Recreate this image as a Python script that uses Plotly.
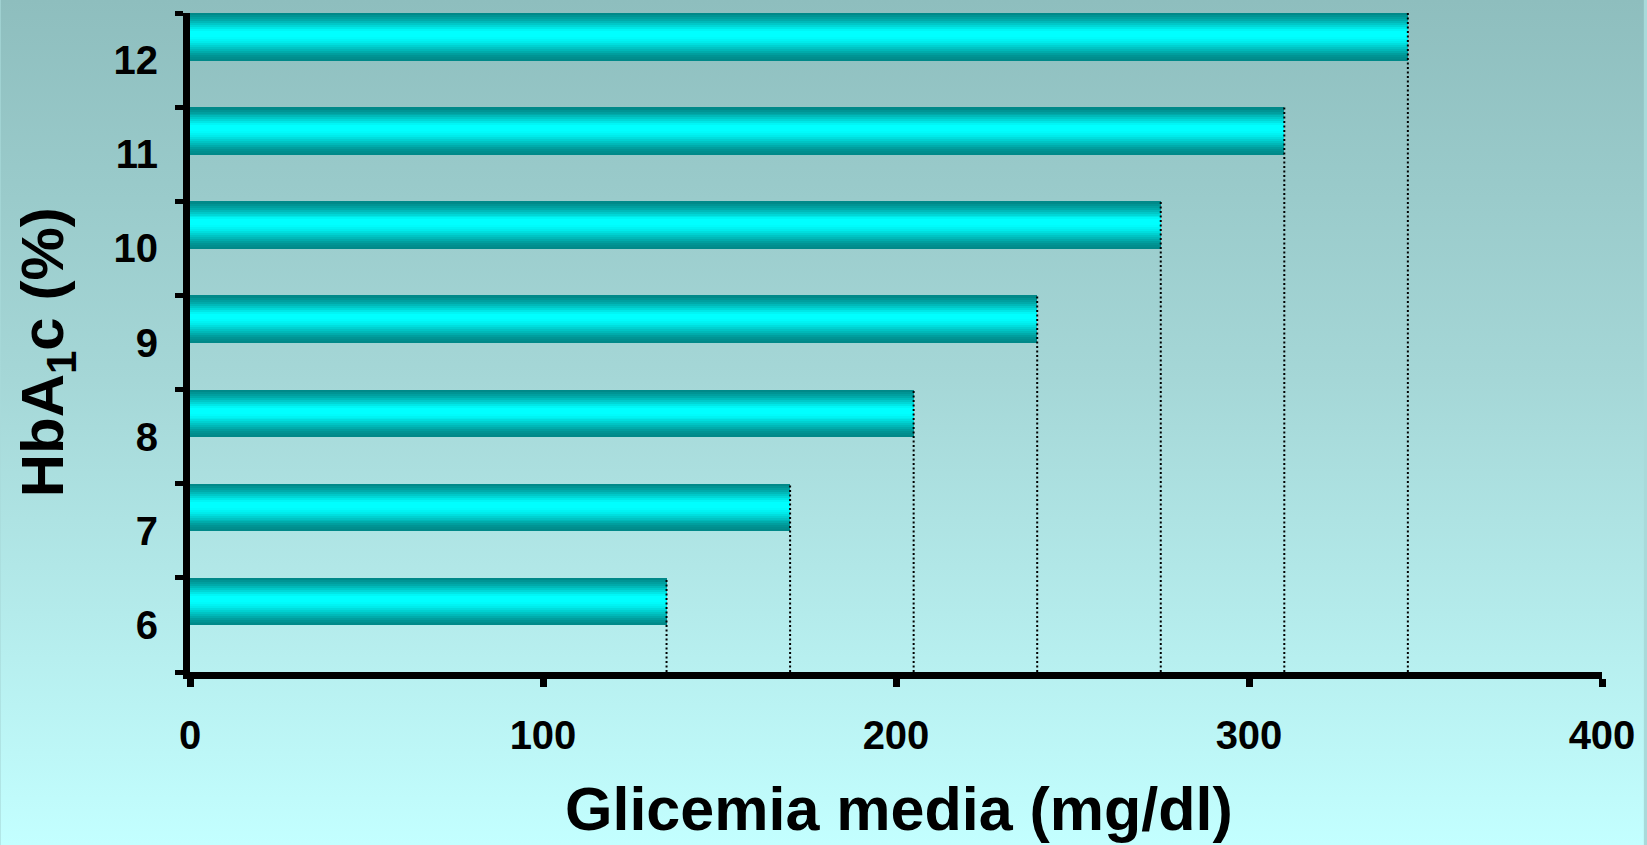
import base64
import plotly.graph_objects as go

# HbA1c (%) categories and the corresponding mean glycaemia (mg/dl)
hba1c = ["6", "7", "8", "9", "10", "11", "12"]
glicemia = [135, 170, 205, 240, 275, 310, 345]
x_ticks = [0, 100, 200, 300, 400]

W, H = 1647, 845
M_L, M_R, M_T, M_B = 190, 42, 13, 173
PLOT_W = W - M_L - M_R
PLOT_H = H - M_T - M_B

FONT = "Liberation Sans, Arial, sans-serif"

# Cylinder-like shading across each bar (bottom -> top)
shade_stops = [
    (0.00, (0, 134, 134)),
    (0.12, (0, 150, 150)),
    (0.40, (0, 236, 236)),
    (0.50, (0, 255, 255)),
    (0.62, (0, 255, 255)),
    (0.86, (0, 168, 168)),
    (1.00, (0, 132, 132)),
]


def shade(t):
    for (t0, c0), (t1, c1) in zip(shade_stops[:-1], shade_stops[1:]):
        if t <= t1:
            f = (t - t0) / (t1 - t0) if t1 > t0 else 0
            return "rgb(%d,%d,%d)" % tuple(round(a + (b - a) * f) for a, b in zip(c0, c1))
    return "rgb(%d,%d,%d)" % shade_stops[-1][1]


BAR_W = 0.5
N_STRIPS = 24
strip = BAR_W / N_STRIPS

fig = go.Figure()
for k in range(N_STRIPS):
    fig.add_trace(go.Bar(
        y=hba1c,
        x=glicemia,
        orientation="h",
        width=strip,
        offset=k * strip,
        marker=dict(color=shade((k + 0.5) / N_STRIPS), line=dict(width=0)),
        showlegend=False,
        hoverinfo="x+y" if k == N_STRIPS // 2 else "skip",
    ))

# Dotted drop lines from the top of each bar down to the value axis
shapes = []
for i, v in enumerate(glicemia):
    shapes.append(dict(
        type="line", xref="x", yref="y",
        x0=v, x1=v, y0=-0.5, y1=i + 0.5,
        line=dict(color="black", width=2, dash="2px,2.5px"),
        layer="above",
    ))

# Soft vertical background gradient
svg = (
    f'<svg xmlns="http://www.w3.org/2000/svg" width="{W}" height="{H}" '
    f'viewBox="0 0 {W} {H}" preserveAspectRatio="none">'
    '<defs><linearGradient id="g" x1="0" y1="0" x2="0" y2="1">'
    '<stop offset="0" stop-color="#8ebebe"/>'
    '<stop offset="0.45" stop-color="#a5d7d7"/>'
    '<stop offset="1" stop-color="#c3ffff"/>'
    '</linearGradient></defs>'
    f'<rect width="{W}" height="{H}" fill="url(#g)"/></svg>'
)
bg_src = "data:image/svg+xml;base64," + base64.b64encode(svg.encode()).decode()

fig.update_layout(
    width=W, height=H,
    margin=dict(l=M_L, r=M_R, t=M_T, b=M_B, pad=0),
    paper_bgcolor="#a8dada",
    plot_bgcolor="rgba(0,0,0,0)",
    barmode="overlay",
    bargap=0,
    showlegend=False,
    shapes=shapes,
    images=[dict(
        source=bg_src, xref="paper", yref="paper",
        x=-M_L / PLOT_W, y=1 + M_T / PLOT_H,
        sizex=W / PLOT_W, sizey=H / PLOT_H,
        xanchor="left", yanchor="top",
        sizing="stretch", layer="below",
    )],
    xaxis=dict(
        range=[0, 400],
        tickvals=x_ticks,
        ticktext=[str(t) for t in x_ticks],
        showgrid=False, zeroline=False,
        showline=True, linewidth=7, linecolor="black",
        ticks="outside", ticklen=8, tickwidth=7, tickcolor="black",
        ticklabelstandoff=14,
        tickfont=dict(family=FONT, size=40, color="black", weight="bold"),
        fixedrange=True,
    ),
    yaxis=dict(
        type="category",
        categoryorder="array", categoryarray=hba1c,
        range=[-0.5, 6.5],
        tickson="boundaries",
        showgrid=False, zeroline=False,
        showline=True, linewidth=7, linecolor="black",
        ticks="outside", ticklen=8, tickwidth=5, tickcolor="black",
        ticklabelstandoff=17,
        tickfont=dict(family=FONT, size=40, color="black", weight="bold"),
        fixedrange=True,
    ),
    annotations=[
        dict(
            text="Glicemia media (mg/dl)",
            xref="paper", yref="paper",
            x=(901 - M_L) / PLOT_W, y=-(809 - (H - M_B)) / PLOT_H,
            xanchor="center", yanchor="middle", showarrow=False,
            font=dict(family=FONT, size=61, color="black", weight="bold"),
        ),
        dict(
            text="HbA<sub>1</sub>c (%)",
            xref="paper", yref="paper",
            x=(47 - M_L) / PLOT_W, y=1 - (352 - M_T) / PLOT_H,
            xanchor="center", yanchor="middle", showarrow=False,
            textangle=-90,
            font=dict(family=FONT, size=60, color="black", weight="bold"),
        ),
    ],
)

fig.write_html("out.html", config={"displayModeBar": False})
